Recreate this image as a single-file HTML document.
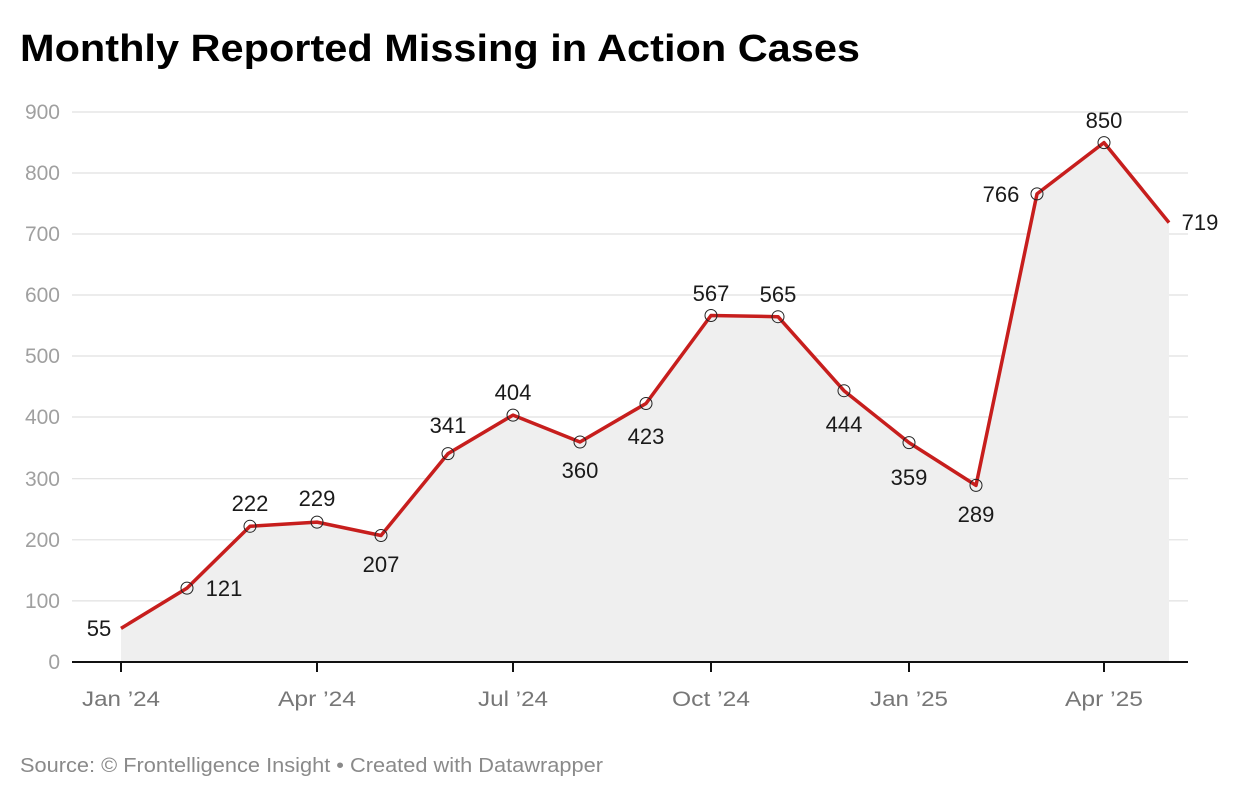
<!DOCTYPE html>
<html><head><meta charset="utf-8"><style>
body{margin:0;background:#fff;width:1240px;height:798px;overflow:hidden;font-family:"Liberation Sans",sans-serif}
</style></head><body>
<svg width="1240" height="798" xmlns="http://www.w3.org/2000/svg" font-family="Liberation Sans, sans-serif">
<text x="20" y="61" font-size="38" font-weight="bold" fill="#000" textLength="840" lengthAdjust="spacingAndGlyphs">Monthly Reported Missing in Action Cases</text>
<g stroke="#e0e0e0" stroke-width="1.2">
<line x1="72" x2="1188" y1="112" y2="112"/><line x1="72" x2="1188" y1="173" y2="173"/><line x1="72" x2="1188" y1="234" y2="234"/><line x1="72" x2="1188" y1="295" y2="295"/><line x1="72" x2="1188" y1="356" y2="356"/><line x1="72" x2="1188" y1="417" y2="417"/><line x1="72" x2="1188" y1="478.7" y2="478.7"/><line x1="72" x2="1188" y1="539.8" y2="539.8"/><line x1="72" x2="1188" y1="600.9" y2="600.9"/>
</g>
<g font-size="21" fill="#a0a0a0" text-anchor="end">
<text x="60" y="119">900</text><text x="60" y="180">800</text><text x="60" y="241">700</text><text x="60" y="302">600</text><text x="60" y="363">500</text><text x="60" y="424">400</text><text x="60" y="486">300</text><text x="60" y="547">200</text><text x="60" y="608">100</text><text x="60" y="669">0</text>
</g>
<polygon fill="#efefef" points="121,662 121,628.4 187,588.1 250,526.3 317,522.1 381,535.5 448,453.6 513,415.1 580,442 646,403.5 711,315.5 778,316.7 844,390.7 909,442.6 976,485.4 1037,193.9 1104,142.6 1169,222.6 1169,662"/>
<polyline fill="none" stroke="#c71e1d" stroke-width="3.5" stroke-linejoin="round" points="121,628.4 187,588.1 250,526.3 317,522.1 381,535.5 448,453.6 513,415.1 580,442 646,403.5 711,315.5 778,316.7 844,390.7 909,442.6 976,485.4 1037,193.9 1104,142.6 1169,222.6"/>
<g fill="none" stroke="#222" stroke-width="1">
<circle cx="187" cy="588.1" r="6"/><circle cx="250" cy="526.3" r="6"/><circle cx="317" cy="522.1" r="6"/><circle cx="381" cy="535.5" r="6"/><circle cx="448" cy="453.6" r="6"/><circle cx="513" cy="415.1" r="6"/><circle cx="580" cy="442" r="6"/><circle cx="646" cy="403.5" r="6"/><circle cx="711" cy="315.5" r="6"/><circle cx="778" cy="316.7" r="6"/><circle cx="844" cy="390.7" r="6"/><circle cx="909" cy="442.6" r="6"/><circle cx="976" cy="485.4" r="6"/><circle cx="1037" cy="193.9" r="6"/><circle cx="1104" cy="142.6" r="6"/>
</g>
<line x1="72" x2="1188" y1="662" y2="662" stroke="#111" stroke-width="2"/>
<g stroke="#111" stroke-width="2">
<line x1="121" x2="121" y1="662" y2="672"/><line x1="317" x2="317" y1="662" y2="672"/><line x1="513" x2="513" y1="662" y2="672"/><line x1="711" x2="711" y1="662" y2="672"/><line x1="909" x2="909" y1="662" y2="672"/><line x1="1104" x2="1104" y1="662" y2="672"/>
</g>
<g font-size="21" fill="#777" text-anchor="middle">
<text x="121" y="706" textLength="78" lengthAdjust="spacingAndGlyphs">Jan ’24</text><text x="317" y="706" textLength="78" lengthAdjust="spacingAndGlyphs">Apr ’24</text><text x="513" y="706" textLength="70" lengthAdjust="spacingAndGlyphs">Jul ’24</text><text x="711" y="706" textLength="78" lengthAdjust="spacingAndGlyphs">Oct ’24</text><text x="909" y="706" textLength="78" lengthAdjust="spacingAndGlyphs">Jan ’25</text><text x="1104" y="706" textLength="78" lengthAdjust="spacingAndGlyphs">Apr ’25</text>
</g>
<g font-size="22" fill="#1a1a1a" text-anchor="middle">
<text x="99" y="636">55</text><text x="224" y="596">121</text><text x="250" y="511">222</text><text x="317" y="506">229</text><text x="381" y="572">207</text><text x="448" y="433">341</text><text x="513" y="400">404</text><text x="580" y="478">360</text><text x="646" y="444">423</text><text x="711" y="301">567</text><text x="778" y="302">565</text><text x="844" y="432">444</text><text x="909" y="485">359</text><text x="976" y="522">289</text><text x="1001" y="202">766</text><text x="1104" y="128">850</text><text x="1200" y="230">719</text>
</g>
<text x="20" y="772" font-size="20" fill="#8a8a8a" textLength="583" lengthAdjust="spacingAndGlyphs">Source: © Frontelligence Insight • Created with Datawrapper</text>
</svg>
</body></html>
